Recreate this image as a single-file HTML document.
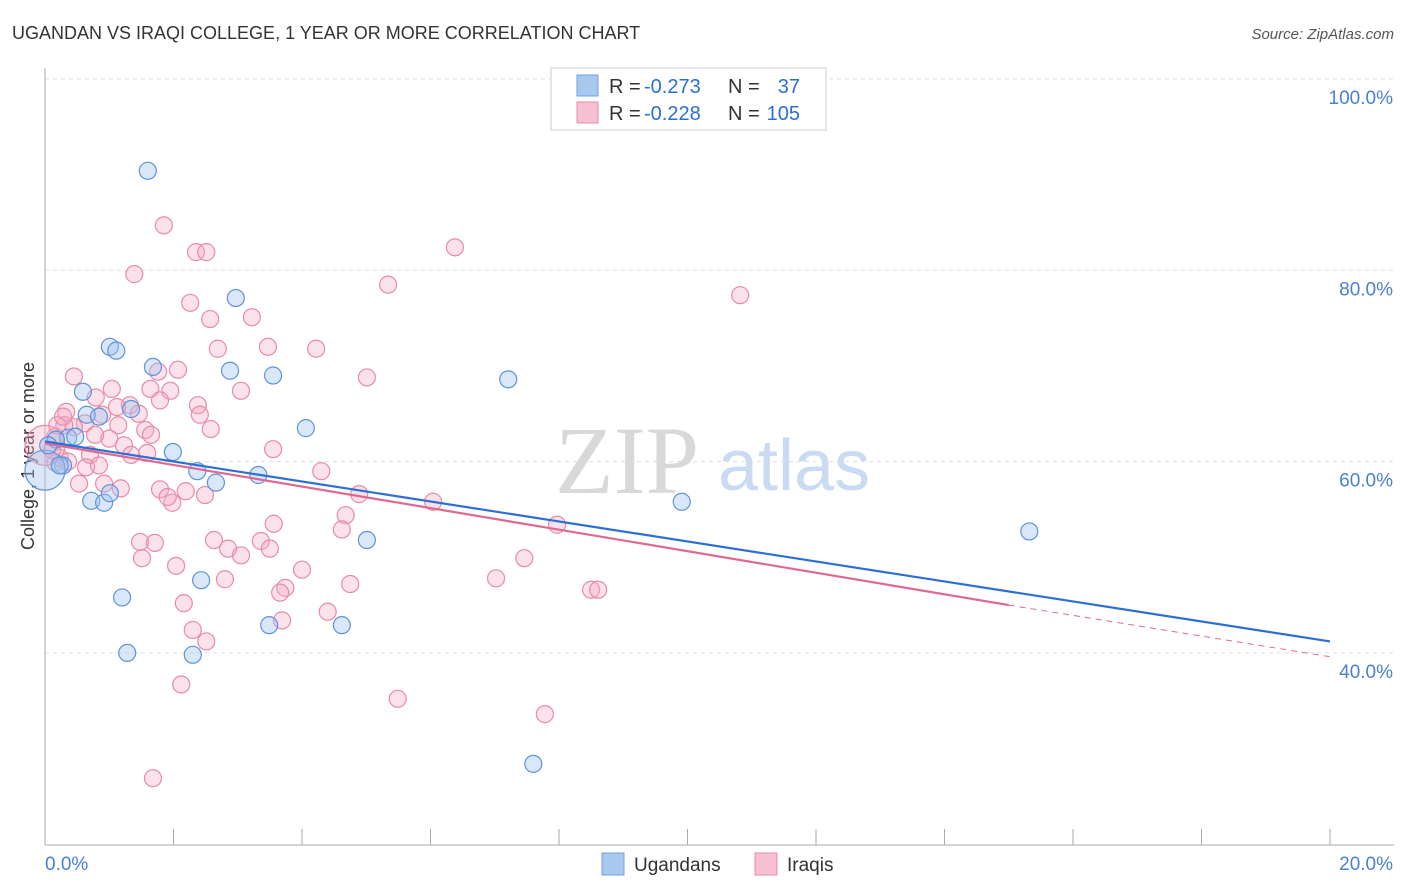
<!DOCTYPE html>
<html><head><meta charset="utf-8">
<style>
body{margin:0;background:#fff;font-family:"Liberation Sans",sans-serif;}
#c{position:relative;width:1406px;height:892px;overflow:hidden;}
</style></head>
<body><div id="c">
<svg id="s" width="1406" height="892"></svg>
</div>
<script>
const blueX=[1.60,2.97,1.01,1.11,1.68,2.88,3.55,0.59,7.21,1.34,0.65,0.84,4.06,0.36,0.17,1.99,2.37,3.32,2.66,0.28,0.72,0.92,1.01,9.91,15.32,5.01,2.43,1.20,3.49,4.62,1.28,2.30,7.60,0,0.47,0.23,0.05];
const blueY=[90.4,77.1,72.0,71.6,69.9,69.5,69.0,67.3,68.6,65.5,64.9,64.7,63.5,62.5,62.3,61.0,59.0,58.6,57.8,59.6,55.9,55.7,56.7,55.8,52.7,51.8,47.6,45.8,42.9,42.9,40.0,39.8,28.4,59.1,62.6,59.6,61.7];
const pinkX=[1.85,2.35,2.51,1.39,6.38,5.34,10.82,2.26,2.57,3.22,2.69,3.47,4.22,1.76,2.07,5.01,0.45,1.04,1.64,1.95,3.05,0.79,1.32,1.12,2.38,0.33,0.89,1.46,2.41,0.62,0.45,1.14,0.30,1.56,1.65,2.58,0.16,1.00,1.23,3.55,1.59,1.34,0.70,0.23,0.64,0.84,4.30,0.16,0.53,0.92,1.18,1.79,2.19,4.89,2.49,1.98,1.91,6.04,4.68,3.56,4.62,7.97,2.63,3.36,1.48,1.71,2.85,3.50,3.05,1.51,7.46,2.04,4.00,7.02,2.80,4.75,3.74,3.66,8.50,8.61,2.16,4.40,3.69,2.30,2.51,2.12,5.49,7.78,1.68,0,0.19,0.11,0.36,0.78,0.28,1.79];
const pinkY=[84.7,81.9,81.9,79.6,82.4,78.5,77.4,76.6,74.9,75.1,71.8,72.0,71.8,69.4,69.6,68.8,68.9,67.6,67.6,67.4,67.4,66.7,65.9,65.7,65.9,65.2,64.9,65.0,64.9,64.0,63.6,63.8,63.8,63.3,62.8,63.4,62.6,62.4,61.7,61.3,60.9,60.7,60.7,60.4,59.4,59.6,59.0,59.9,57.7,57.7,57.2,57.1,56.9,56.6,56.5,55.7,56.3,55.8,54.4,53.5,52.9,53.4,51.8,51.7,51.6,51.5,50.9,50.9,50.2,49.9,49.9,49.1,48.7,47.8,47.7,47.2,46.8,46.3,46.6,46.6,45.2,44.3,43.4,42.4,41.2,36.7,35.2,33.6,26.9,61.7,63.8,61.2,60.0,62.8,64.7,66.4];
const yTicks=[100,80,60,40];
const blueLine=[[0,62.1],[20,41.2]];
const pinkLine=[[0,61.9],[15,45.0],[20,39.6]];

const X=v=>45+v/20*1285;
const Y=v=>79+(100-v)/20*191.3;
const s=document.getElementById('s');
const NS='http://www.w3.org/2000/svg';
function el(t,a,p){const e=document.createElementNS(NS,t);for(const k in a)e.setAttribute(k,a[k]);(p||s).appendChild(e);return e;}

let t=el('text',{x:12,y:39,'font-size':18,fill:'#333'});t.textContent='UGANDAN VS IRAQI COLLEGE, 1 YEAR OR MORE CORRELATION CHART';


t=el('text',{x:1394,y:39,'font-size':15,fill:'#555','font-style':'italic','text-anchor':'end'});t.textContent='Source: ZipAtlas.com';



yTicks.forEach(v=>{
  const g=el('line',{x1:45,x2:1394,y1:Y(v),y2:Y(v),stroke:'#ddd','stroke-dasharray':'4,4'});
  
  
  const l=el('text',{x:1393,y:Y(v)+25,'font-size':19,fill:'#4a7fd4','text-anchor':'end'});l.textContent=v.toFixed(1)+'%';
  
  
});
let ax=el('line',{x1:45,x2:45,y1:68,y2:845,stroke:'#aaa'});


ax=el('line',{x1:45,x2:1394,y1:845,y2:845,stroke:'#aaa'});


for(let i=0;i<=10;i++){const tk=el('line',{x1:X(i*2),x2:X(i*2),y1:829,y2:845,stroke:'#aaa'});

}
t=el('text',{x:45,y:870,'font-size':19,fill:'#4a7fd4'});t.textContent='0.0%';


t=el('text',{x:1393,y:870,'font-size':19,fill:'#4a7fd4','text-anchor':'end'});t.textContent='20.0%';


t=el('text',{x:34,y:456,'font-size':18,fill:'#333','text-anchor':'middle',transform:'rotate(-90 34 456)'});t.textContent='College, 1 year or more';



t=el('text',{x:555,y:493,'font-size':96,fill:'#d8d8d8','font-family':'Liberation Serif'});t.textContent='ZIP';


t=el('text',{x:718,y:490,'font-size':72,fill:'#c9daf2'});t.textContent='atlas';



pinkX.forEach((x,i)=>{const c=el('circle',{cx:X(x),cy:Y(pinkY[i]),r:(x===0?20:8.5),fill:'rgba(244,170,196,0.35)',stroke:'#e88aaa','stroke-width':1.2});

});
blueX.forEach((x,i)=>{const c=el('circle',{cx:X(x),cy:Y(blueY[i]),r:(x===0?20:8.5),fill:'rgba(160,196,240,0.4)',stroke:'#5f92dc','stroke-width':1.2});

});

let ln=el('line',{x1:X(blueLine[0][0]),y1:Y(blueLine[0][1]),x2:X(blueLine[1][0]),y2:Y(blueLine[1][1]),stroke:'#2b6fd6','stroke-width':2.2});


ln=el('line',{x1:X(pinkLine[0][0]),y1:Y(pinkLine[0][1]),x2:X(pinkLine[1][0]),y2:Y(pinkLine[1][1]),stroke:'#e0688f','stroke-width':2.2});


ln=el('line',{x1:X(pinkLine[1][0]),y1:Y(pinkLine[1][1]),x2:X(pinkLine[2][0]),y2:Y(pinkLine[2][1]),stroke:'#e0688f','stroke-width':1,'stroke-dasharray':'6,5'});



// legend
let lg=el('g',{});


el('rect',{x:551,y:68,width:275,height:62,fill:'#fff',stroke:'#ccc'},lg);
[['#a8c8f0','#6fa0e0','-0.273','37',86],['#f6c0d2','#e88aaa','-0.228','105',113]].forEach(r=>{
  const g=el('g',{},lg);
  
  
  el('rect',{x:577,y:r[4]-11,width:21,height:21,fill:r[0],stroke:r[1]},g);
  let a=el('text',{x:609,y:r[4]+7,'font-size':20,fill:'#333'},g);a.textContent='R = ';
  a=el('text',{x:644,y:r[4]+7,'font-size':20,fill:'#2b6fd6'},g);a.textContent=r[2];
  a=el('text',{x:728,y:r[4]+7,'font-size':20,fill:'#333'},g);a.textContent='N = ';
  a=el('text',{x:800,y:r[4]+7,'font-size':20,fill:'#2b6fd6','text-anchor':'end'},g);a.textContent=r[3];
});
[['#a8c8f0','#6fa0e0','Ugandans',602],['#f6c0d2','#e88aaa','Iraqis',755]].forEach(r=>{
  const g=el('g',{});
  
  
  el('rect',{x:r[3],y:853,width:22,height:22,fill:r[0],stroke:r[1]},g);
  const a=el('text',{x:r[3]+32,y:871,'font-size':19,fill:'#333'},g);a.textContent=r[2];
});
</script>
</body></html>
